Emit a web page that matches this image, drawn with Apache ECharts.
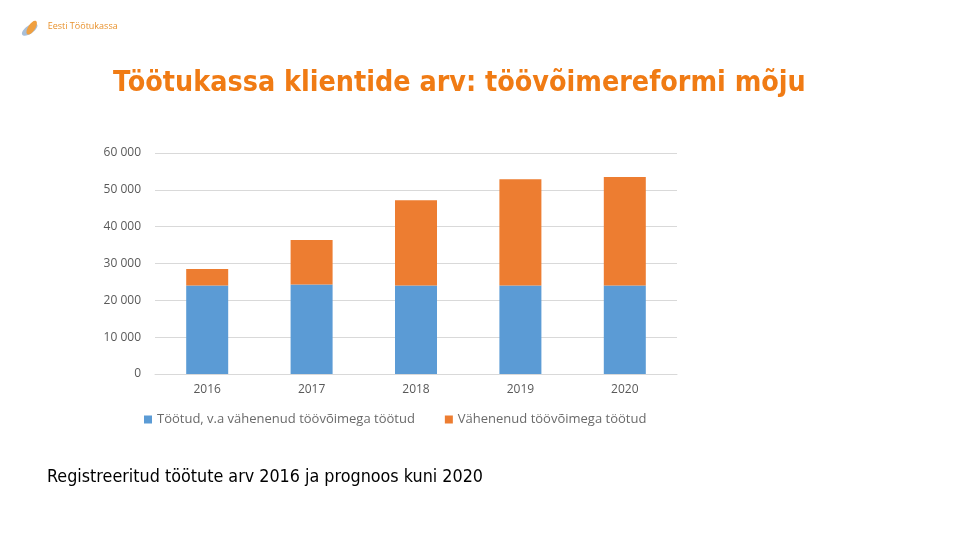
<!DOCTYPE html>
<html>
<head>
<meta charset="utf-8">
<script src="https://cdn.jsdelivr.net/npm/echarts@6/dist/echarts.min.js"></script>
<style>
  html, body { margin: 0; padding: 0; background: #fff; }
  #chart { width: 960px; height: 540px; }
</style>
</head>
<body>
<div id="chart"></div>
<script>
const years = ['2016', '2017', '2018', '2019', '2020'];
const unemployedOther = [24000, 24300, 24000, 24000, 24000];
const reducedCapacity = [4500, 12100, 23200, 28900, 29500];
const seriesNames = ['Töötud, v.a vähenenud töövõimega töötud', 'Vähenenud töövõimega töötud'];

const chart = echarts.init(document.getElementById('chart'), null, { renderer: 'canvas' });

const option = {
  animation: false,
  color: ['#5b9bd5', '#ed7d31'],
  textStyle: { fontFamily: 'Open Sans' },
  graphic: [
    {
      type: 'text',
      left: 113,
      top: 70,
      style: {
        text: 'Töötukassa klientide arv: töövõimereformi mõju',
        fill: '#f07b14',
        font: 'bold 28.4px "DejaVu Sans Condensed"',
      },
    },
    {
      type: 'text',
      left: 47,
      top: 468,
      style: {
        text: 'Registreeritud töötute arv 2016 ja prognoos kuni 2020',
        fill: '#000',
        font: '17.8px "DejaVu Sans Condensed"',
      },
    },
    // logo
    {
      type: 'group',
      left: 20,
      top: 19,
      children: [
        { type: 'ellipse', shape: { cx: 9, cy: 11, rx: 9, ry: 4 }, rotation: 0.6, originX: 9, originY: 11, style: { fill: '#a9bfd8' } },
        { type: 'ellipse', shape: { cx: 11, cy: 9, rx: 8, ry: 3.5 }, rotation: 1.0, originX: 11, originY: 9, style: { fill: '#f0a040' } },
        { type: 'text', x: 27, y: 3, style: { text: 'Eesti Töötukassa', fill: '#e8912c', font: '9px "Open Sans"' } },
      ],
    },
  ],
  legend: {
    top: 408,
    left: 139,
    itemWidth: 8,
    itemHeight: 8,
    itemGap: 30,
    icon: 'rect',
    textStyle: { color: '#6a6a6a', fontSize: 13, fontFamily: 'Open Sans' },
    data: seriesNames,
  },
  grid: {
    left: 155,
    right: 283,
    top: 153,
    bottom: 166,
  },
  xAxis: {
    type: 'category',
    data: years,
    axisLine: { lineStyle: { color: '#d9d9d9' } },
    axisTick: { show: false },
    axisLabel: { color: '#595959', fontSize: 12, margin: 10 },
  },
  yAxis: {
    type: 'value',
    min: 0,
    max: 60000,
    interval: 10000,
    axisLine: { show: false },
    axisTick: { show: false },
    splitLine: { lineStyle: { color: '#d9d9d9' } },
    axisLabel: {
      color: '#595959',
      fontSize: 12,
      margin: 14,
      formatter: v => String(v).replace(/\B(?=(\d{3})+(?!\d))/g, ' '),
    },
  },
  series: [
    {
      name: seriesNames[0],
      type: 'bar',
      stack: 'total',
      barWidth: 42,
      data: unemployedOther,
    },
    {
      name: seriesNames[1],
      type: 'bar',
      stack: 'total',
      barWidth: 42,
      data: reducedCapacity,
    },
  ],
};

chart.setOption(option);
</script>
</body>
</html>
